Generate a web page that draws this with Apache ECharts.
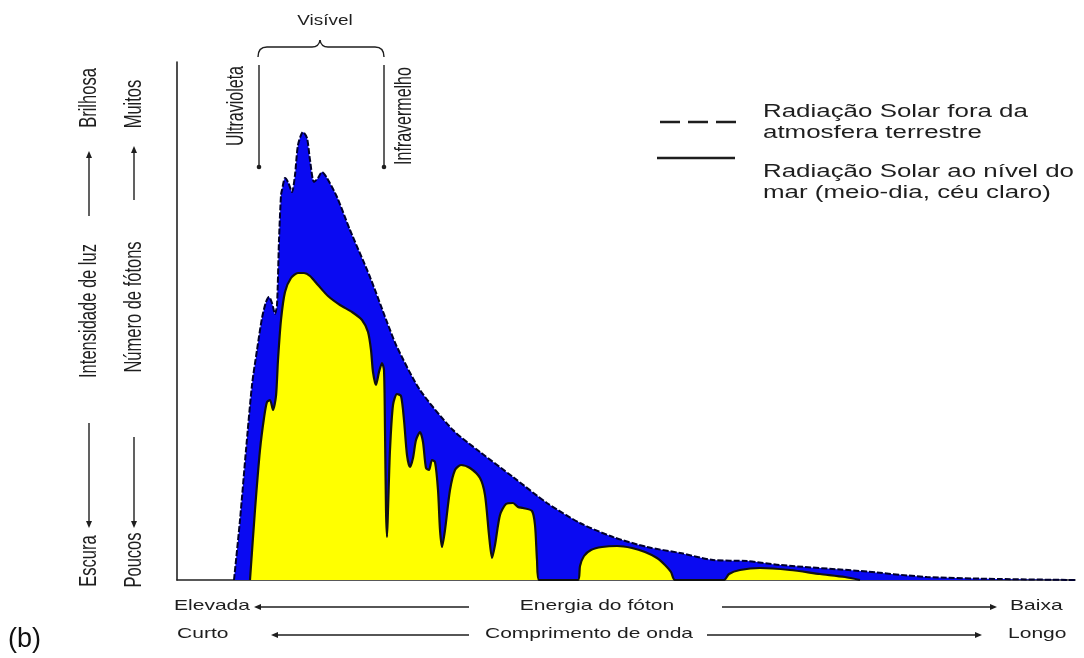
<!DOCTYPE html>
<html>
<head>
<meta charset="utf-8">
<script src="https://cdn.jsdelivr.net/npm/echarts@6/dist/echarts.min.js"></script>
<style>
html,body{margin:0;padding:0;background:#fff;}
#chart{width:1084px;height:658px;}
</style>
</head>
<body>
<div id="chart"></div>
<script>
// Relative position along the spectrum (short wavelength -> long) and relative intensity
const outerX = [57, 63, 69, 75, 80, 85, 89, 92, 95, 98, 100, 102, 104, 105, 108, 111, 115, 118, 121, 126, 130, 133, 137, 141, 145, 150, 160, 173, 193, 210, 220, 243, 276, 303, 336, 370, 403, 436, 470, 503, 536, 570, 603, 683, 750, 823, 898];
const outerY = [0, 60, 130, 195, 230, 262, 278, 283, 277, 266, 275, 340, 385, 390, 402, 398, 388, 405, 435, 448, 442, 420, 398, 402, 408, 402, 383, 350, 303, 258, 233, 190, 150, 128, 103, 77, 57, 43, 33, 27, 20, 19, 15, 9, 3, 1, 0];

const seaX = [73, 78, 83, 87, 90, 93, 96, 99, 101, 104, 108, 114, 121, 127, 133, 141, 151, 163, 175, 185, 191, 194, 196, 199, 202, 205, 207, 208, 209, 210, 211, 213, 216, 220, 224, 227, 230, 233, 236, 239, 243, 246, 249, 252, 255, 258, 261, 263, 265, 268, 273, 278, 284, 293, 303, 308, 312, 315, 318, 323, 329, 336, 341, 346, 355, 358, 360, 362, 401, 403, 407, 414, 425, 440, 455, 468, 480, 488, 494, 498, 547, 552, 563, 583, 613, 643, 668, 683];
const seaY = [0, 70, 130, 162, 178, 180, 170, 184, 220, 260, 288, 302, 307, 307, 304, 295, 284, 275, 268, 260, 248, 230, 208, 195, 208, 217, 210, 150, 70, 43, 70, 130, 175, 186, 184, 160, 125, 113, 122, 140, 148, 138, 112, 110, 120, 118, 90, 50, 33, 50, 90, 110, 115, 112, 102, 85, 45, 22, 35, 65, 76, 77, 73, 72, 69, 55, 20, 0, 0, 14, 24, 30, 33, 34, 32, 28, 22, 15, 8, 0, 0, 6, 10, 12, 10, 6, 3, 0];

const legendTexts = ['Radiação Solar fora da', 'atmosfera terrestre', 'Radiação Solar ao nível do', 'mar (meio-dia, céu claro)'];
const leftLabels1 = ['Brilhosa', 'Intensidade de luz', 'Escura'];
const leftLabels2 = ['Muitos', 'Número de fótons', 'Poucos'];
const bottomRow1 = ['Elevada', 'Energia do fóton', 'Baixa'];
const bottomRow2 = ['Curto', 'Comprimento de onda', 'Longo'];
const topLabels = ['Visível', 'Ultravioleta', 'Infravermelho'];

const outerData = outerX.map((x, i) => [x, outerY[i]]);
const seaData = seaX.map((x, i) => [x, seaY[i]]);

const FONT = "'Liberation Sans', Arial, sans-serif";
const INK = '#1e1e1e';
const G = [];
function hText(text, x, y, size, align, sx) {
  G.push({type: 'text', x: x, y: y, scaleX: sx || 1.45, z: 10,
    style: {text: text, fontSize: size, fontFamily: FONT, fill: INK,
      textAlign: align, textVerticalAlign: 'middle', align: align, verticalAlign: 'middle'}});
}
function vText(text, x, y, size) {
  G.push({type: 'text', x: x, y: y, rotation: Math.PI / 2, scaleY: 1.5, z: 10,
    style: {text: text, fontSize: size, fontFamily: FONT, fill: INK,
      textAlign: 'center', textVerticalAlign: 'middle', align: 'center', verticalAlign: 'middle'}});
}
function seg(x1, y1, x2, y2, w, dash) {
  const el = {type: 'line', z: 10, shape: {x1: x1, y1: y1, x2: x2, y2: y2},
    style: {stroke: INK, lineWidth: w || 1.4}};
  if (dash) el.style.lineDash = dash;
  G.push(el);
}
function curve(x1, y1, cx, cy, x2, y2) {
  G.push({type: 'bezierCurve', z: 10, shape: {x1: x1, y1: y1, cpx1: cx, cpy1: cy, x2: x2, y2: y2},
    style: {stroke: INK, lineWidth: 1.4, fill: null}});
}
function head(x, y, dir) {
  const L = 7, W = 3;
  let pts;
  if (dir === 'left') pts = [[x, y], [x + L, y - W], [x + L, y + W]];
  else if (dir === 'right') pts = [[x, y], [x - L, y - W], [x - L, y + W]];
  else if (dir === 'up') pts = [[x, y], [x - W, y + L], [x + W, y + L]];
  else pts = [[x, y], [x - W, y - L], [x + W, y - L]];
  G.push({type: 'polygon', z: 10, shape: {points: pts}, style: {fill: INK}});
}

// left vertical labels
vText(leftLabels1[0], 89, 98, 16.5);
vText(leftLabels1[1], 89, 311, 16.5);
vText(leftLabels1[2], 89, 561, 16.5);
seg(89, 216, 89, 156); head(89, 151, 'up');
seg(89, 423, 89, 522); head(89, 528, 'down');
vText(leftLabels2[0], 134, 104, 16.5);
vText(leftLabels2[1], 134, 307, 16.5);
vText(leftLabels2[2], 134, 560, 16.5);
seg(134, 200, 134, 151); head(134, 146, 'up');
seg(134, 437, 134, 522); head(134, 528, 'down');

// top labels and brace
hText(topLabels[0], 325, 21, 14, 'center', 1.35);
curve(258, 57, 258, 47, 267, 47);
seg(267, 47, 312, 47);
curve(312, 47, 319, 47, 320, 40);
curve(320, 40, 321, 47, 328, 47);
seg(328, 47, 375, 47);
curve(375, 47, 384, 47, 384, 57);
vText(topLabels[1], 236, 106, 16);
vText(topLabels[2], 404, 116, 16);
seg(259, 65, 259, 166); G.push({type: 'circle', z: 10, shape: {cx: 259, cy: 167, r: 2.3}, style: {fill: INK}});
seg(384, 65, 384, 166); G.push({type: 'circle', z: 10, shape: {cx: 384, cy: 167, r: 2.3}, style: {fill: INK}});

// legend
seg(660, 122, 740, 122, 2.6, [20, 8]);
seg(657, 158, 735, 158, 2.6);
hText(legendTexts[0], 763, 112, 17.5, 'left', 1.48);
hText(legendTexts[1], 763, 133, 17.5, 'left', 1.48);
hText(legendTexts[2], 763, 172, 17.5, 'left', 1.48);
hText(legendTexts[3], 763, 193, 17.5, 'left', 1.48);

// bottom rows
hText(bottomRow1[0], 174, 606, 14.5, 'left');
seg(261, 607, 469, 607); head(254, 607, 'left');
hText(bottomRow1[1], 597, 606, 14.5, 'center');
seg(722, 607, 990, 607); head(997, 607, 'right');
hText(bottomRow1[2], 1010, 606, 14.5, 'left');
hText(bottomRow2[0], 177, 634, 14.5, 'left');
seg(278, 635, 469, 635); head(271, 635, 'left');
hText(bottomRow2[1], 589, 634, 14.5, 'center');
seg(707, 635, 975, 635); head(982, 635, 'right');
hText(bottomRow2[2], 1008, 634, 14.5, 'left');

// (b)
G.push({type: 'text', x: 8, y: 640, z: 10, style: {text: '(b)', fontSize: 27, fontFamily: FONT, fill: '#111',
  textAlign: 'left', textVerticalAlign: 'middle', align: 'left', verticalAlign: 'middle'}});

const chart = echarts.init(document.getElementById('chart'), null, {renderer: 'canvas'});
chart.setOption({
  animation: false,
  backgroundColor: '#ffffff',
  grid: {left: 177, right: 9, top: 62, bottom: 78},
  xAxis: {type: 'value', min: 0, max: 898,
    axisLine: {show: true, onZero: false, lineStyle: {color: '#222', width: 1.6}},
    axisTick: {show: false}, axisLabel: {show: false}, splitLine: {show: false}},
  yAxis: {type: 'value', min: 0, max: 518,
    axisLine: {show: true, onZero: false, lineStyle: {color: '#222', width: 1.6}},
    axisTick: {show: false}, axisLabel: {show: false}, splitLine: {show: false}},
  series: [
    {type: 'line', data: outerData, symbol: 'none', smooth: 0.25, z: 2,
      lineStyle: {color: '#00002e', width: 2, type: [6, 2]},
      areaStyle: {color: '#0a0af2', opacity: 1}},
    {type: 'line', data: seaData, symbol: 'none', smooth: 0.25, z: 3,
      lineStyle: {color: '#111111', width: 2.2},
      areaStyle: {color: '#ffff00', opacity: 1}}
  ],
  graphic: G
});
</script>
</body>
</html>
